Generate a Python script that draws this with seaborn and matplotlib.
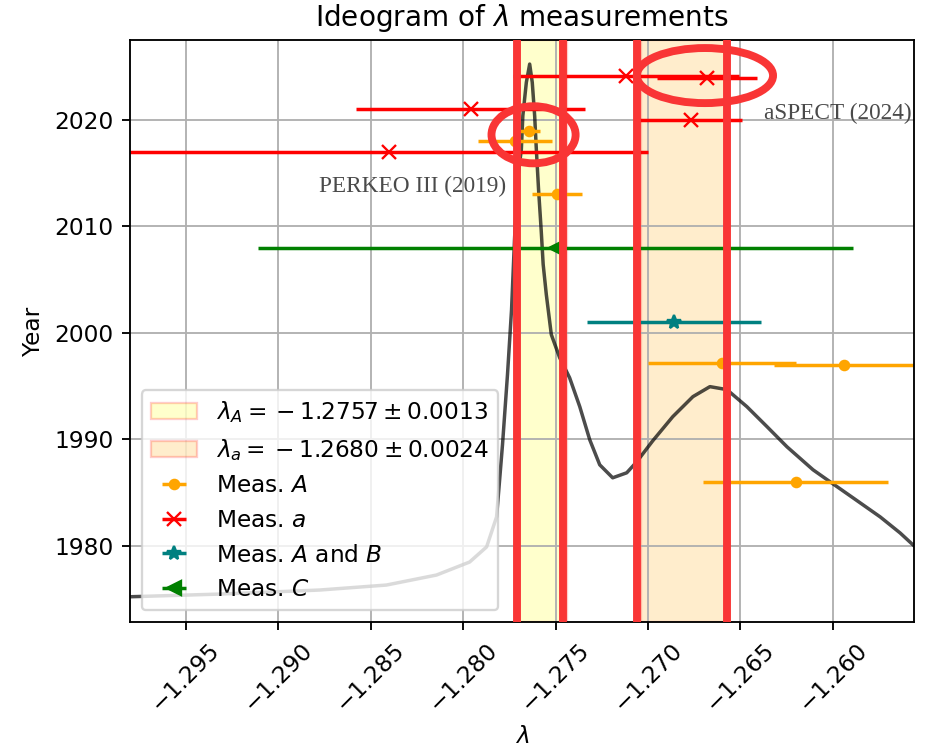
import matplotlib
matplotlib.use("Agg")
import matplotlib.pyplot as plt
from matplotlib.patches import Ellipse
import pandas as pd
import seaborn as sns

# ---- ideogram curve ----
ideo_x = [-1.29802, -1.29320, -1.28778, -1.28415, -1.28144, -1.27965, -1.27873,
          -1.27819, -1.27787, -1.27760, -1.27738, -1.27722, -1.27705, -1.27685,
          -1.27677, -1.27658, -1.27640, -1.27626, -1.27613, -1.27604, -1.27592,
          -1.27578, -1.27567, -1.27550, -1.27523, -1.27478, -1.27424, -1.27369,
          -1.27315, -1.27261, -1.27191, -1.27115, -1.27061, -1.26974, -1.26866,
          -1.26757, -1.26665, -1.26573, -1.26465, -1.26356, -1.26248, -1.26107,
          -1.25999, -1.25891, -1.25744, -1.25636, -1.25560]
ideo_y = [1975.22, 1975.47, 1975.85, 1976.32, 1977.26, 1978.48, 1979.90,
          1982.72, 1989.49, 1996.08, 2002.19, 2008.78, 2014.42, 2017.24,
          2020.38, 2023.52, 2025.24, 2023.52, 2020.38, 2017.24, 2013.48,
          2009.72, 2006.43, 2003.60, 1999.84, 1997.68, 1995.79, 1993.07,
          1989.96, 1987.61, 1986.39, 1986.86, 1987.89, 1989.87, 1992.13,
          1994.01, 1994.95, 1994.67, 1993.07, 1991.19, 1989.30, 1987.14,
          1985.82, 1984.51, 1982.72, 1981.21, 1979.99]

# ---- measurements ----
A_lam = [-1.27641, -1.2772, -1.2749, -1.2660, -1.2594, -1.2620]
A_err = [0.00056, 0.0020, 0.00135, 0.0040, 0.0038, 0.0050]
A_year = [2019, 2018, 2013, 1997.2, 1997.0, 1986]

a_lam = [-1.2712, -1.2668, -1.2796, -1.2677, -1.2840]
a_err = [0.0061, 0.0027, 0.0062, 0.0028, 0.0140]
a_year = [2024.1, 2023.95, 2021, 2020, 2017]

AB_lam = [-1.2686]
AB_err = [0.0047]
AB_year = [2001]

C_lam = [-1.2750]
C_err = [0.0161]
C_year = [2008]

# ---- averages ----
lamA, sigA = -1.2757, 0.0013
lama, siga = -1.2680, 0.0024

# ---- annotations ----
ann_text = ["PERKEO III (2019)", "aSPECT (2024)"]
ann_x = [-1.27767, -1.25574]
ann_y = [2013.26, 2020.07]

hl_x = [-1.27708, -1.27459, -1.27061, -1.26573]
ell_cx = [-1.27619, -1.26692]
ell_cy = [2018.6, 2024.16]
ell_w = [0.00455, 0.00737]
ell_h = [5.36, 5.17]

xlim = (-1.29802, -1.25561)
ylim = (1972.85, 2027.5)
yticks = [1980, 1990, 2000, 2010, 2020]
xticks = [-1.295, -1.290, -1.285, -1.280, -1.275, -1.270, -1.265, -1.260]

DPI = 167
fig = plt.figure(figsize=(928 / DPI, 751 / DPI), dpi=DPI)
ax = fig.add_axes([130 / 928, 1 - 622 / 751, (914 - 130) / 928, (622 - 40) / 751])

ax.axvspan(lamA - sigA, lamA + sigA, facecolor='yellow', edgecolor='red', alpha=0.2,
           label=r'$\lambda_A ={} - 1.2757 \pm 0.0013$')
ax.axvspan(lama - siga, lama + siga, facecolor='orange', edgecolor='red', alpha=0.2,
           label=r'$\lambda_a ={} - 1.2680 \pm 0.0024$')

curve = pd.DataFrame({"lam": ideo_x, "year": ideo_y})
sns.lineplot(data=curve, x="lam", y="year", ax=ax, color='k', alpha=0.7, lw=1.5,
             sort=False, estimator=None, legend=False)

ax.errorbar(A_lam, A_year, xerr=A_err, fmt='o', ms=4, color='orange', label='Meas. $A$')
ax.errorbar(a_lam, a_year, xerr=a_err, fmt='x', color='red', label='Meas. $a$')
ax.errorbar(AB_lam, AB_year, xerr=AB_err, fmt='*', color='teal', label='Meas. $A$ and $B$')
ax.errorbar(C_lam, C_year, xerr=C_err, fmt='<', color='green', label='Meas. $C$')

for t, x, y in zip(ann_text, ann_x, ann_y):
    ax.text(x, y, t, ha='right', va='baseline', fontsize=10.0,
            family=['Liberation Serif', 'DejaVu Serif'], color='#4a4a4a')

hl_color = '#f93535'
for x in hl_x:
    ax.axvline(x, color=hl_color, lw=3.4, zorder=10)
for cx, cy, w, h in zip(ell_cx, ell_cy, ell_w, ell_h):
    ax.add_patch(Ellipse((cx, cy), w, h, fill=False, edgecolor=hl_color, lw=3.4, zorder=11))

ax.set_xlim(*xlim)
ax.set_ylim(*ylim)
ax.set_xticks(xticks)
ax.set_yticks(yticks)
ax.tick_params(axis='x', rotation=45)
ax.grid(True)
ax.set_xlabel(r'$\lambda$')
ax.set_ylabel('Year')
ax.set_title(r'Ideogram of $\lambda$ measurements')
ax.legend(loc='lower left')

fig.savefig('out.png', dpi=DPI)
